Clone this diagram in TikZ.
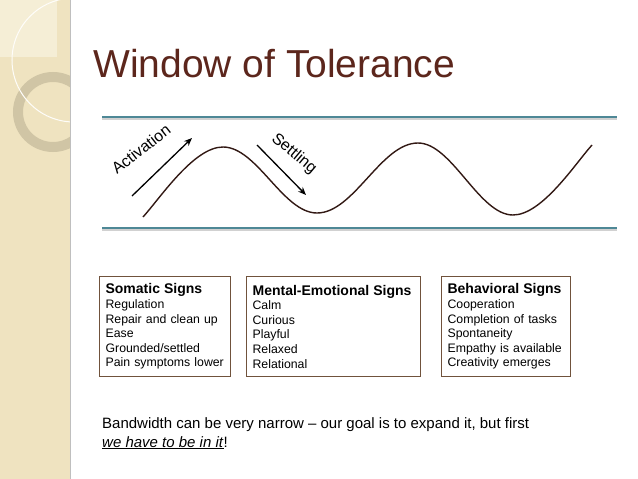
\documentclass[tikz,border=0pt]{standalone}
\usepackage{fontspec}
\setmainfont{Liberation Sans}
\usetikzlibrary{arrows.meta, positioning}

\definecolor{bandbeige}{RGB}{239,227,192}
\definecolor{bandlight}{RGB}{245,238,214}
\definecolor{ringtan}{RGB}{208,197,165}
\definecolor{titlebrown}{RGB}{92,38,28}
\definecolor{bandteal}{RGB}{78,136,150}
\definecolor{boxbrown}{RGB}{112,82,60}
\definecolor{wavebrown}{RGB}{50,25,20}

\begin{document}
\begin{tikzpicture}[
      x=1pt, y=-1pt,
      limitline/.style={bandteal, line width=2.6pt},
      signbox/.style={rectangle, draw=boxbrown, line width=1.2pt, anchor=north west,
        align=left, inner xsep=6pt, inner ysep=0pt, minimum height=100pt,
        font=\fontsize{12.3}{14.6}\selectfont},
      signarrow/.style={-{Stealth[length=8pt, width=6.5pt]}, line width=1.3pt},
      wavelabel/.style={font=\fontsize{16}{18}\selectfont, inner sep=0pt}
    ]
      \useasboundingbox (0,0) rectangle (638,479);

      % left decoration band
      \fill[bandbeige] (0,0) rectangle (70,479);
      \fill[bandlight] (0,0) rectangle (57,57);
      \begin{scope}
        \clip (0,0) rectangle (70,479);
        \draw[ringtan, line width=10pt] (53,112) circle[radius=35];
        \draw[white!92!bandbeige, line width=1pt] (74,60) circle[radius=62];
      \end{scope}
      \draw[black!25] (70,0) -- (70,479);

      % title
      \node[anchor=base west, inner sep=0pt, text=titlebrown,
        font=\fontsize{39}{44}\selectfont] (title) at (93,77) {Window of Tolerance};

      % window limits
      \coordinate (topL) at (102,117);
      \coordinate (topR) at (617,117);
      \coordinate (botL) at (102,228);
      \coordinate (botR) at (617,228);
      \draw[black!18, line width=2pt] ([yshift=-1.6pt]topL) -- ([yshift=-1.6pt]topR);
      \draw[black!18, line width=2pt] ([yshift=-1.6pt]botL) -- ([yshift=-1.6pt]botR);
      \draw[limitline] (topL) -- (topR);
      \draw[limitline] (botL) -- (botR);

      % wave
      \draw[wavebrown, line width=1.4pt]
        (143,217) .. controls (161,197) and (194,147) .. (223,147)
        .. controls (257,147) and (283,213) .. (317,213)
        .. controls (354,213) and (381,143) .. (418,143)
        .. controls (452,143) and (479,215) .. (513,215)
        .. controls (542,215) and (575,164) .. (592,145);

      % activation and settling
      \coordinate (actA) at (132,196);
      \coordinate (actB) at (192,138);
      \draw[signarrow] (actA) -- (actB);
      \node[wavelabel, rotate=38] (activation) at (141,149) {Activation};

      \coordinate (setA) at (257,145);
      \coordinate (setB) at (306,195);
      \draw[signarrow] (setA) -- (setB);
      \node[wavelabel, rotate=-40] (settling) at (294,154) {Settling};

      % sign boxes
      \node[signbox, text width=119pt] (somatic) at (99,276)
        {\textbf{\fontsize{14}{14.6}\selectfont Somatic Signs}\\
         Regulation\\ Repair and clean up\\ Ease\\ Grounded/settled\\ Pain symptoms lower};
      \node[signbox, text width=162pt] (mental) at (246,276)
        {\textbf{\fontsize{14}{14.6}\selectfont Mental-Emotional Signs}\\
         Calm\\ Curious\\ Playful\\ Relaxed\\ Relational};
      \node[signbox, text width=117pt] (behavioral) at (441,276)
        {\textbf{\fontsize{14}{14.6}\selectfont Behavioral Signs}\\
         Cooperation\\ Completion of tasks\\ Spontaneity\\ Empathy is available\\ Creativity emerges};

      % note
      \node[anchor=base west, inner sep=0pt, align=left,
        font=\fontsize{15}{19}\selectfont] (note) at (102,447)
        {Bandwidth can be very narrow -- our goal is to expand it, but first\\
         \underline{\textit{we have to be in it}}!};
    \end{tikzpicture}
\end{document}
